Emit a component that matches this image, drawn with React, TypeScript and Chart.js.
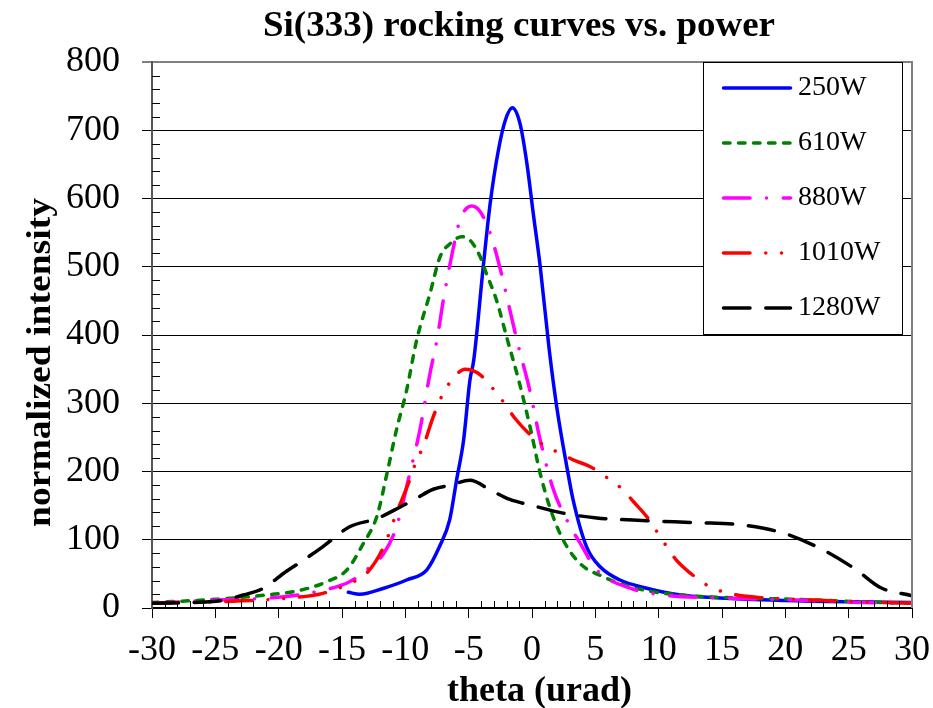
import React, { useEffect, useRef } from 'react';
import { Chart, registerables } from 'chart.js';

Chart.register(...registerables);

const FONT = '"Liberation Serif", "Times New Roman", Times, serif';

// ---- data (theta in urad, normalized intensity) ----
const seriesNames = ['250W', '610W', '880W', '1010W', '1280W'];

const theta250 = [-14.5, -13.6, -11.7, -9.9, -8.3, -7.3, -6.5, -5.95, -5.4, -4.9, -4.6, -3.85, -3.3, -2.65, -2.1, -1.55, -0.95, -0.4, 0.1, 0.65, 1.35, 1.95, 2.75, 3.25, 4.3, 5.4, 6.95, 9.05, 11.7, 14.5, 18, 22, 26, 30];
const int250 = [23, 20, 29, 41, 56, 90, 129, 188, 246, 334, 363, 500, 593, 671, 715, 733, 710, 651, 578, 500, 380, 295, 207, 158, 90, 60, 41, 29, 19, 15, 12, 10, 9, 8];

const theta610 = [-30, -25, -21, -18.3, -16.2, -14.6, -13.3, -12.25, -11.45, -10.7, -9.9, -9.1, -8.05, -7.25, -6.45, -5.55, -4.9, -4.1, -3.6, -2.8, -2.0, -1.0, -0.15, 0.65, 1.4, 2.45, 3.8, 5.6, 7.75, 10.4, 14.8, 20.9, 26.1, 30];
const int610 = [8, 12.7, 19, 26, 38.5, 56, 95, 134, 197, 261, 319, 393, 461, 515, 534, 544, 539, 515, 490, 451, 397, 330, 265, 197, 148, 100, 65, 46, 31, 21.5, 15.6, 12.7, 9, 7];

const theta880 = [-30, -25, -19.6, -17, -14.4, -13.05, -11.7, -10.7, -9.65, -8.85, -8.05, -7.5, -7.0, -6.35, -5.7, -5.15, -4.75, -4.1, -3.3, -2.55, -1.75, -1.2, -0.15, 0.65, 1.7, 2.75, 3.8, 5.1, 7.75, 10.4, 14.3, 20.9, 26.1, 30];
const int880 = [7, 11.7, 16.5, 24, 38.5, 56, 80, 119, 197, 261, 344, 393, 451, 515, 568, 586, 589, 581, 549, 500, 437, 393, 317, 246, 173, 129, 95, 56, 29, 19, 15, 11.7, 8, 7];

const theta1010 = [-30, -27.3, -23.6, -19.6, -16.5, -14.4, -13.05, -11.7, -10.7, -9.75, -9.1, -8.6, -7.8, -7.0, -6.2, -5.3, -4.25, -2.8, -2.0, -1.35, -0.15, 1.15, 2.2, 3.25, 4.6, 6.15, 7.2, 8.0, 9.05, 10.1, 11.4, 12.5, 14.05, 16.2, 18.3, 22.2, 26.1, 30];
const int1010 = [7, 8, 10, 14, 21.5, 36, 51, 90, 139, 183, 217, 236, 280, 315, 337, 350, 344, 315, 295, 278, 254, 236, 227, 217, 207, 188, 173, 156, 134, 105, 70, 51, 31, 19, 15, 11.7, 9, 7];

const theta1280 = [-30, -24.9, -22.8, -21.2, -19.6, -18.05, -16.5, -14.4, -12.25, -10.4, -9.1, -7.8, -6.45, -4.9, -3.3, -1.75, -0.15, 2.45, 5.1, 9.05, 13.0, 16.4, 19.8, 23.0, 25.6, 27.5, 30];
const int1280 = [7, 10, 19, 29, 51, 70, 90, 119, 131, 148, 161, 174, 180, 187, 173, 159, 151, 139, 132, 128, 125, 122, 110, 85, 56, 30, 18];

const xTickValues = [-30, -25, -20, -15, -10, -5, 0, 5, 10, 15, 20, 25, 30];
const yTickValues = [0, 100, 200, 300, 400, 500, 600, 700, 800];

const chartTitle = 'Si(333) rocking curves vs. power';
const xTitle = 'theta (urad)';
const yTitle = 'normalized intensity';

const colors = ['#0000ff', '#008000', '#ff00ff', '#ff0000', '#000000'];
const dashes: number[][] = [
  [],
  [6.5, 8.5],
  [26.5, 16.5, 0.01, 16.75],
  [26.5, 15.75, 0.01, 15.75, 0.01, 15.75],
  [26.5, 15.8],
];

const thetas = [theta250, theta610, theta880, theta1010, theta1280];
const ints = [int250, int610, int880, int1010, int1280];

function fitText(ctx: CanvasRenderingContext2D, text: string, x: number, y: number, targetW: number) {
  const w = ctx.measureText(text).width;
  const s = targetW / w;
  ctx.save();
  ctx.translate(x, y);
  ctx.scale(s, 1);
  ctx.textAlign = 'center';
  ctx.fillText(text, 0, 0);
  ctx.restore();
}

const decorPlugin = {
  id: 'decor',
  afterDatasetsDraw(chart: any) {
    const ctx: CanvasRenderingContext2D = chart.ctx;
    const { left, right, top, bottom } = chart.chartArea;
    const xs = chart.scales.x;
    const ys = chart.scales.y;
    ctx.save();

    // right border
    ctx.strokeStyle = '#808080';
    ctx.lineWidth = 2;
    ctx.beginPath();
    ctx.moveTo(right, top - 1);
    ctx.lineTo(right, bottom);
    ctx.stroke();

    // minor ticks
    ctx.strokeStyle = '#000';
    ctx.lineWidth = 1;
    ctx.beginPath();
    for (let v = -30; v <= 30; v += 1) {
      if (v % 5 === 0) continue;
      const px = Math.round(xs.getPixelForValue(v)) + 0.5;
      ctx.moveTo(px, bottom);
      ctx.lineTo(px, bottom - 7);
    }
    for (let v = 0; v <= 800; v += 20) {
      if (v % 100 === 0) continue;
      const py = Math.round(ys.getPixelForValue(v)) + 0.5;
      ctx.moveTo(left, py);
      ctx.lineTo(left + 8, py);
    }
    ctx.stroke();

    // legend box
    const bx = 703, by = 62, bw = 199, bh = 272;
    ctx.fillStyle = '#fff';
    ctx.fillRect(bx, by, bw, bh);
    ctx.strokeStyle = '#000';
    ctx.lineWidth = 1;
    ctx.strokeRect(bx + 0.5, by + 0.5, bw, bh);
    const rows = [88, 143, 198, 253, 308];
    chart.data.datasets.forEach((ds: any, i: number) => {
      const y = rows[i];
      ctx.save();
      ctx.strokeStyle = ds.borderColor;
      ctx.lineWidth = ds.borderWidth;
      ctx.lineCap = 'round';
      ctx.setLineDash(ds.borderDash || []);
      ctx.beginPath();
      ctx.moveTo(723.5, y);
      ctx.lineTo(790.5, y);
      ctx.stroke();
      ctx.restore();
      ctx.fillStyle = '#000';
      ctx.font = `28px ${FONT}`;
      ctx.textAlign = 'left';
      ctx.textBaseline = 'middle';
      ctx.fillText(ds.label, 798, y);
    });

    // titles
    ctx.fillStyle = '#000';
    ctx.textBaseline = 'alphabetic';
    ctx.font = `bold 35px ${FONT}`;
    fitText(ctx, chartTitle, 519, 35.5, 512);
    ctx.font = `bold 35px ${FONT}`;
    fitText(ctx, xTitle, 539.5, 701, 185);
    ctx.save();
    ctx.translate(50, 362.5);
    ctx.rotate(-Math.PI / 2);
    ctx.font = `bold 34px ${FONT}`;
    fitText(ctx, yTitle, 0, 0, 329);
    ctx.restore();

    ctx.restore();
  },
};

export default function App() {
  const ref = useRef<HTMLCanvasElement>(null);
  useEffect(() => {
    document.body.style.margin = '0';
    document.body.style.overflow = 'hidden';
    const canvas = ref.current!;
    const datasets = seriesNames.map((name, i) => ({
      label: name,
      data: thetas[i].map((t, k) => ({ x: t, y: ints[i][k] })),
      borderColor: colors[i],
      backgroundColor: colors[i],
      borderWidth: 3.5,
      borderDash: dashes[i],
      borderCapStyle: 'round' as const,
      borderJoinStyle: 'round' as const,
      pointRadius: 0,
      cubicInterpolationMode: 'monotone' as const,
      fill: false,
      order: 5 - i,
    }));
    const chart = new Chart(canvas, {
      type: 'line',
      data: { datasets },
      options: {
        responsive: false,
        animation: false,
        events: [],
        layout: { padding: { top: 62, right: 21, left: 0, bottom: 0 } },
        plugins: {
          legend: { display: false },
          title: { display: false },
          tooltip: { enabled: false },
        },
        scales: {
          x: {
            type: 'linear',
            min: -30,
            max: 30,
            afterFit: (s: any) => { s.height = 100; s.paddingLeft = 0; s.paddingRight = 0; },
            afterBuildTicks: (s: any) => { s.ticks = xTickValues.map((v) => ({ value: v })); },
            ticks: {
              stepSize: 5,
              padding: 11,
              color: '#000',
              font: { family: FONT, size: 36, lineHeight: 1.2 },
              callback: (v: any) => String(v),
              maxRotation: 0,
              autoSkip: false,
            },
            grid: { drawOnChartArea: false, drawTicks: true, tickLength: 10, tickColor: '#000', tickWidth: 1 },
            border: { display: true, color: '#000', width: 2 },
          },
          y: {
            type: 'linear',
            min: 0,
            max: 800,
            afterFit: (s: any) => { s.width = 152; s.paddingTop = 0; s.paddingBottom = 0; },
            afterBuildTicks: (s: any) => { s.ticks = yTickValues.map((v) => ({ value: v })); },
            ticks: {
              stepSize: 100,
              padding: 22,
              color: '#000',
              font: { family: FONT, size: 36, lineHeight: 1.2 },
              callback: (v: any) => String(v),
              autoSkip: false,
            },
            grid: {
              drawOnChartArea: true,
              drawTicks: true,
              tickLength: 10,
              color: (c: any) => (c.tick && c.tick.value === 800 ? '#808080' : '#000'),
              lineWidth: (c: any) => (c.tick && c.tick.value === 800 ? 2 : 1),
              tickColor: '#000',
              tickWidth: 1,
            },
            border: { display: true, color: '#555', width: 2 },
          },
        },
      },
      plugins: [decorPlugin],
    });
    return () => chart.destroy();
  }, []);
  return (
    <div style={{ width: 933, height: 708 }}>
      <canvas ref={ref} width={933} height={708} style={{ display: 'block' }} />
    </div>
  );
}
